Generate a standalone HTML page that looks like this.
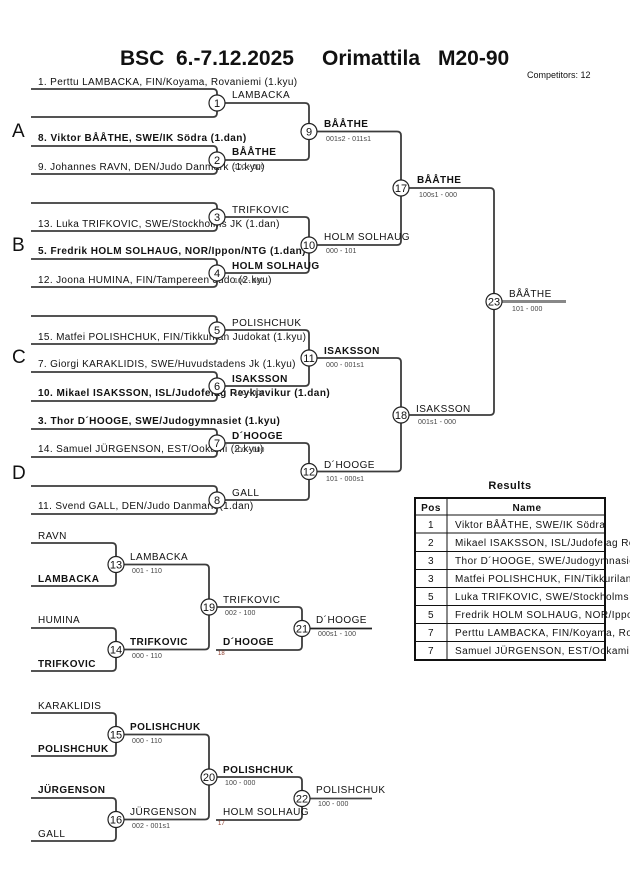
<!DOCTYPE html>
<html><head><meta charset="utf-8"><style>
html,body{margin:0;padding:0;background:#fff;}
svg{display:block;}
text{font-family:"Liberation Sans",Arial,sans-serif;}
.n{font-size:10px;letter-spacing:0.45px;fill:#111;}
.e{font-size:10px;letter-spacing:0.35px;fill:#111;}
.b{font-size:10px;letter-spacing:0.45px;font-weight:bold;fill:#111;}
.s{font-size:7px;fill:#444;letter-spacing:0.1px;}
.c{font-size:11px;fill:#111;text-anchor:middle;}
.t{font-size:6px;fill:#8a3a2a;}
.br{fill:none;stroke:#3c3c3c;stroke-width:1.8;}
.ci{fill:#fff;stroke:#222;stroke-width:1.2;}
.L{font-size:19px;fill:#111;}
</style></head><body>
<svg width="630" height="891" viewBox="0 0 630 891" xmlns="http://www.w3.org/2000/svg">
<!-- Title -->
<text x="120" y="65" font-size="21" font-weight="bold" fill="#111">BSC</text>
<text x="176" y="65" font-size="21" font-weight="bold" fill="#111">6.-7.12.2025</text>
<text x="322" y="65" font-size="21" font-weight="bold" fill="#111">Orimattila</text>
<text x="438" y="65" font-size="21" font-weight="bold" fill="#111">M20-90</text>
<text x="527" y="78" font-size="9" fill="#111">Competitors: 12</text>

<!-- Pool letters -->
<text class="L" x="12" y="137">A</text>
<text class="L" x="12" y="251">B</text>
<text class="L" x="12" y="363">C</text>
<text class="L" x="12" y="479">D</text>

<!-- Round 1 brackets -->
<path class="br" d="M31 89 H213 Q217 89 217 93 V113 Q217 117 213 117 H31"/>
<path class="br" d="M31 146 H213 Q217 146 217 150 V170 Q217 174 213 174 H31"/>
<path class="br" d="M31 203 H213 Q217 203 217 207 V227 Q217 231 213 231 H31"/>
<path class="br" d="M31 259 H213 Q217 259 217 263 V283 Q217 287 213 287 H31"/>
<path class="br" d="M31 316 H213 Q217 316 217 320 V340 Q217 344 213 344 H31"/>
<path class="br" d="M31 372 H213 Q217 372 217 376 V397 Q217 401 213 401 H31"/>
<path class="br" d="M31 429 H213 Q217 429 217 433 V453 Q217 457 213 457 H31"/>
<path class="br" d="M31 486 H213 Q217 486 217 490 V510 Q217 514 213 514 H31"/>

<!-- Round 2 -->
<path class="br" d="M217 103 H305 Q309 103 309 107 V156 Q309 160 305 160 H217"/>
<path class="br" d="M217 217 H305 Q309 217 309 221 V269 Q309 273 305 273 H217"/>
<path class="br" d="M217 330 H305 Q309 330 309 334 V382 Q309 386 305 386 H217"/>
<path class="br" d="M217 443 H305 Q309 443 309 447 V496 Q309 500 305 500 H217"/>

<!-- Round 3 -->
<path class="br" d="M309 131.5 H397 Q401 131.5 401 135.5 V241 Q401 245 397 245 H309"/>
<path class="br" d="M309 358 H397 Q401 358 401 362 V467.5 Q401 471.5 397 471.5 H309"/>

<!-- Final -->
<path class="br" d="M401 188 H490 Q494 188 494 192 V411 Q494 415 490 415 H401"/>
<line x1="494" y1="301.5" x2="566" y2="301.5" stroke="#888" stroke-width="3"/>

<!-- Entrant names -->
<text class="e" x="38" y="85">1. Perttu LAMBACKA, FIN/Koyama, Rovaniemi (1.kyu)</text>
<text class="b" x="38" y="141">8. Viktor BÅÅTHE, SWE/IK Södra (1.dan)</text>
<text class="e" x="38" y="170">9. Johannes RAVN, DEN/Judo Danmark (1.kyu)</text>
<text class="e" x="38" y="227">13. Luka TRIFKOVIC, SWE/Stockholms JK (1.dan)</text>
<text class="b" x="38" y="254">5. Fredrik HOLM SOLHAUG, NOR/Ippon/NTG (1.dan)</text>
<text class="e" x="38" y="283">12. Joona HUMINA, FIN/Tampereen Judo (2.kyu)</text>
<text class="e" x="38" y="340">15. Matfei POLISHCHUK, FIN/Tikkurilan Judokat (1.kyu)</text>
<text class="e" x="38" y="367">7. Giorgi KARAKLIDIS, SWE/Huvudstadens Jk (1.kyu)</text>
<text class="b" x="38" y="396">10. Mikael ISAKSSON, ISL/Judofelag Reykjavikur (1.dan)</text>
<text class="b" x="38" y="424">3. Thor D´HOOGE, SWE/Judogymnasiet (1.kyu)</text>
<text class="e" x="38" y="452">14. Samuel JÜRGENSON, EST/Ookami (2.kyu)</text>
<text class="e" x="38" y="509">11. Svend GALL, DEN/Judo Danmark (1.dan)</text>

<!-- Round 1 winners -->
<text class="n" x="232" y="98">LAMBACKA</text>
<text class="b" x="232" y="155">BÅÅTHE</text>
<text class="s" x="234" y="169">100 - 000</text>
<text class="n" x="232" y="213">TRIFKOVIC</text>
<text class="b" x="232" y="269">HOLM SOLHAUG</text>
<text class="s" x="234" y="283">100 - 000</text>
<text class="n" x="232" y="326">POLISHCHUK</text>
<text class="b" x="232" y="382">ISAKSSON</text>
<text class="s" x="234" y="395">100 - 000</text>
<text class="b" x="232" y="439">D´HOOGE</text>
<text class="s" x="234" y="452">100 - 000</text>
<text class="n" x="232" y="496">GALL</text>

<!-- Round 2 winners -->
<text class="b" x="324" y="127">BÅÅTHE</text>
<text class="s" x="326" y="141">001s2 - 011s1</text>
<text class="n" x="324" y="240">HOLM SOLHAUG</text>
<text class="s" x="326" y="253">000 - 101</text>
<text class="b" x="324" y="354">ISAKSSON</text>
<text class="s" x="326" y="367">000 - 001s1</text>
<text class="n" x="324" y="468">D´HOOGE</text>
<text class="s" x="326" y="481">101 - 000s1</text>

<!-- Round 3 winners -->
<text class="b" x="417" y="183">BÅÅTHE</text>
<text class="s" x="419" y="197">100s1 - 000</text>
<text class="n" x="416" y="412">ISAKSSON</text>
<text class="s" x="418" y="424">001s1 - 000</text>

<!-- Final winner -->
<text class="n" x="509" y="297">BÅÅTHE</text>
<text class="s" x="512" y="311">101 - 000</text>

<!-- Main circles -->
<g>
<circle class="ci" cx="217" cy="103" r="8"/><text class="c" x="217" y="107">1</text>
<circle class="ci" cx="217" cy="160" r="8"/><text class="c" x="217" y="164">2</text>
<circle class="ci" cx="217" cy="217" r="8"/><text class="c" x="217" y="221">3</text>
<circle class="ci" cx="217" cy="273" r="8"/><text class="c" x="217" y="277">4</text>
<circle class="ci" cx="217" cy="330" r="8"/><text class="c" x="217" y="334">5</text>
<circle class="ci" cx="217" cy="386" r="8"/><text class="c" x="217" y="390">6</text>
<circle class="ci" cx="217" cy="443" r="8"/><text class="c" x="217" y="447">7</text>
<circle class="ci" cx="217" cy="500" r="8"/><text class="c" x="217" y="504">8</text>
<circle class="ci" cx="309" cy="131.5" r="8"/><text class="c" x="309" y="135.5">9</text>
<circle class="ci" cx="309" cy="245" r="8"/><text class="c" x="309" y="249">10</text>
<circle class="ci" cx="309" cy="358" r="8"/><text class="c" x="309" y="362">11</text>
<circle class="ci" cx="309" cy="471.5" r="8"/><text class="c" x="309" y="475.5">12</text>
<circle class="ci" cx="401" cy="188" r="8"/><text class="c" x="401" y="192">17</text>
<circle class="ci" cx="401" cy="415" r="8"/><text class="c" x="401" y="419">18</text>
<circle class="ci" cx="494" cy="301.5" r="8"/><text class="c" x="494" y="305.5">23</text>
</g>

<!-- Repechage brackets -->
<path class="br" d="M31 543 H112 Q116 543 116 547 V582 Q116 586 112 586 H31"/>
<path class="br" d="M31 628 H112 Q116 628 116 632 V667 Q116 671 112 671 H31"/>
<path class="br" d="M31 713 H112 Q116 713 116 717 V752 Q116 756 112 756 H31"/>
<path class="br" d="M31 798 H112 Q116 798 116 802 V837 Q116 841 112 841 H31"/>
<path class="br" d="M116 564.5 H205 Q209 564.5 209 568.5 V645.5 Q209 649.5 205 649.5 H116"/>
<path class="br" d="M116 734.5 H205 Q209 734.5 209 738.5 V815.5 Q209 819.5 205 819.5 H116"/>
<path class="br" d="M209 607 H298 Q302 607 302 611 V646 Q302 650 298 650 H216"/>
<path class="br" d="M209 777 H298 Q302 777 302 781 V816 Q302 820 298 820 H216"/>
<line x1="302" y1="628.5" x2="372" y2="628.5" stroke="#222" stroke-width="1.8"/>
<line x1="302" y1="798.5" x2="372" y2="798.5" stroke="#444" stroke-width="1.8"/>

<!-- Repechage names -->
<text class="n" x="38" y="539">RAVN</text>
<text class="b" x="38" y="582">LAMBACKA</text>
<text class="n" x="38" y="623">HUMINA</text>
<text class="b" x="38" y="667">TRIFKOVIC</text>
<text class="n" x="38" y="709">KARAKLIDIS</text>
<text class="b" x="38" y="752">POLISHCHUK</text>
<text class="b" x="38" y="793">JÜRGENSON</text>
<text class="n" x="38" y="837">GALL</text>

<text class="n" x="130" y="560">LAMBACKA</text>
<text class="s" x="132" y="573">001 - 110</text>
<text class="b" x="130" y="645">TRIFKOVIC</text>
<text class="s" x="132" y="658">000 - 110</text>
<text class="b" x="130" y="730">POLISHCHUK</text>
<text class="s" x="132" y="743">000 - 110</text>
<text class="n" x="130" y="815">JÜRGENSON</text>
<text class="s" x="132" y="828">002 - 001s1</text>

<text class="n" x="223" y="603">TRIFKOVIC</text>
<text class="s" x="225" y="615">002 - 100</text>
<text class="b" x="223" y="645">D´HOOGE</text>
<text class="t" x="218" y="655">18</text>
<text class="b" x="223" y="773">POLISHCHUK</text>
<text class="s" x="225" y="785">100 - 000</text>
<text class="n" x="223" y="815">HOLM SOLHAUG</text>
<text class="t" x="218" y="825">17</text>

<text class="n" x="316" y="623">D´HOOGE</text>
<text class="s" x="318" y="636">000s1 - 100</text>
<text class="n" x="316" y="793">POLISHCHUK</text>
<text class="s" x="318" y="806">100 - 000</text>

<!-- Repechage circles -->
<circle class="ci" cx="116" cy="564.5" r="8"/><text class="c" x="116" y="568.5">13</text>
<circle class="ci" cx="116" cy="649.5" r="8"/><text class="c" x="116" y="653.5">14</text>
<circle class="ci" cx="116" cy="734.5" r="8"/><text class="c" x="116" y="738.5">15</text>
<circle class="ci" cx="116" cy="819.5" r="8"/><text class="c" x="116" y="823.5">16</text>
<circle class="ci" cx="209" cy="607" r="8"/><text class="c" x="209" y="611">19</text>
<circle class="ci" cx="209" cy="777" r="8"/><text class="c" x="209" y="781">20</text>
<circle class="ci" cx="302" cy="628.5" r="8"/><text class="c" x="302" y="632.5">21</text>
<circle class="ci" cx="302" cy="798.5" r="8"/><text class="c" x="302" y="802.5">22</text>

<!-- Results table -->
<text x="510" y="489" font-size="11" font-weight="bold" text-anchor="middle" letter-spacing="0.5" fill="#111">Results</text>
<g stroke="#111" stroke-width="1" fill="none">
<line x1="415" y1="515" x2="605" y2="515"/>
<line x1="415" y1="533" x2="605" y2="533"/>
<line x1="415" y1="551.5" x2="605" y2="551.5"/>
<line x1="415" y1="569.5" x2="605" y2="569.5"/>
<line x1="415" y1="587.5" x2="605" y2="587.5"/>
<line x1="415" y1="605.5" x2="605" y2="605.5"/>
<line x1="415" y1="623.5" x2="605" y2="623.5"/>
<line x1="415" y1="641.5" x2="605" y2="641.5"/>
<line x1="447" y1="498" x2="447" y2="660"/>
</g>
<rect x="415" y="498" width="190" height="162" fill="none" stroke="#111" stroke-width="2"/>
<text class="b" x="431" y="511" text-anchor="middle">Pos</text>
<text class="b" x="527" y="511" text-anchor="middle">Name</text>
<g>
<text class="n" x="431" y="528" text-anchor="middle">1</text><text class="n" x="455" y="528">Viktor BÅÅTHE, SWE/IK Södra</text>
<text class="n" x="431" y="546" text-anchor="middle">2</text><text class="n" x="455" y="546">Mikael ISAKSSON, ISL/Judofelag Reykjavikur</text>
<text class="n" x="431" y="564" text-anchor="middle">3</text><text class="n" x="455" y="564">Thor D´HOOGE, SWE/Judogymnasiet</text>
<text class="n" x="431" y="582" text-anchor="middle">3</text><text class="n" x="455" y="582">Matfei POLISHCHUK, FIN/Tikkurilan Judokat</text>
<text class="n" x="431" y="600" text-anchor="middle">5</text><text class="n" x="455" y="600">Luka TRIFKOVIC, SWE/Stockholms JK</text>
<text class="n" x="431" y="618" text-anchor="middle">5</text><text class="n" x="455" y="618">Fredrik HOLM SOLHAUG, NOR/Ippon/NTG</text>
<text class="n" x="431" y="636" text-anchor="middle">7</text><text class="n" x="455" y="636">Perttu LAMBACKA, FIN/Koyama, Rovaniemi</text>
<text class="n" x="431" y="654" text-anchor="middle">7</text><text class="n" x="455" y="654">Samuel JÜRGENSON, EST/Ookami</text>
</g>
</svg>
</body></html>
